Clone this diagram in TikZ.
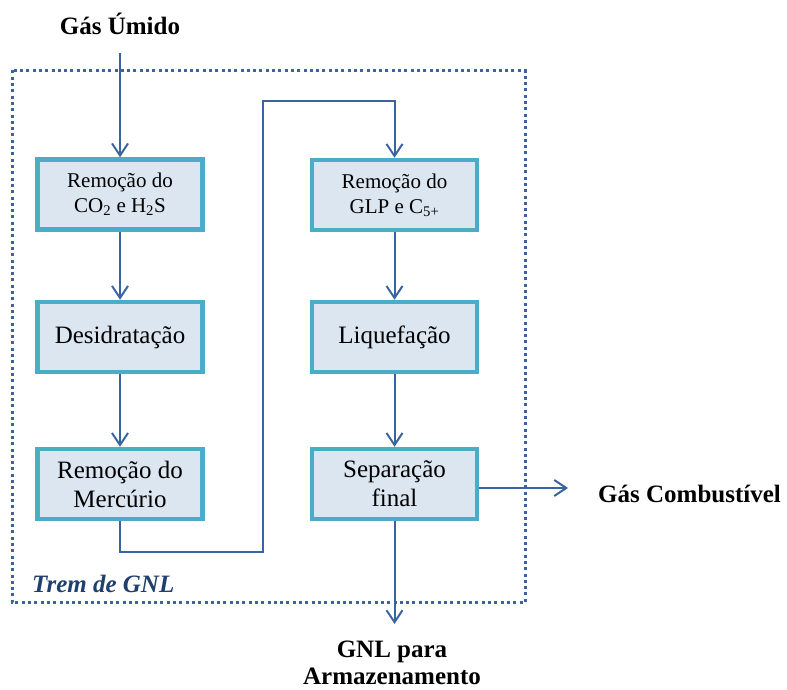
\documentclass[tikz,border=0pt]{standalone}
\usepackage{fontspec}
\setmainfont{Liberation Serif}
\usetikzlibrary{arrows.meta}
\definecolor{flowline}{HTML}{3A64A0}
\definecolor{boxedge}{HTML}{4BACC6}
\definecolor{boxfill}{HTML}{DCE6F1}
\definecolor{titleblue}{HTML}{1F3F6E}
\tikzset{
  stage/.style={draw=boxedge, fill=boxfill, line width=4.5pt, minimum width=165pt,
    minimum height=70pt, inner sep=0pt, align=center, text=black,
    font=\fontsize{25}{29}\selectfont},
  smallstage/.style={stage, font=\fontsize{21}{25}\selectfont},
  flow/.style={draw=flowline, line width=2pt,
    -{Straight Barb[length=12pt,width=16pt,line width=2pt]}},
  trainframe/.style={draw=flowline, line width=3pt, dash pattern=on 3pt off 3.3pt},
  heading/.style={font=\fontsize{25}{27}\selectfont\bfseries, inner sep=0pt, align=center}
}
\begin{document}
\begin{tikzpicture}[x=1pt, y=-1pt]
\useasboundingbox (0,0) rectangle (787,690);

% dotted boundary of the liquefaction train
\draw[trainframe] (12,70.5) rectangle (525,602.5);
\node[font=\fontsize{25}{28}\selectfont\bfseries\itshape, text=titleblue,
  anchor=base west, inner sep=0pt] (train) at (32,592) {Trem de GNL};

% process stages
\node[smallstage] (co2) at (120,194.5) {Remoção do\\CO\textsubscript{2} e H\textsubscript{2}S};
\node[stage] (dehy) at (120,337) {Desidratação};
\node[stage] (hg) at (120,484) {Remoção do\\Mercúrio};
\node[smallstage] (glp) at (394.5,195) {Remoção do\\GLP e C\textsubscript{5+}};
\node[stage] (liq) at (394.5,337) {Liquefação};
\node[stage] (sep) at (394.5,484) {Separação\\final};

% inlet and outlet labels
\node[heading, anchor=base] (wet) at (120,35) {Gás Úmido};
\coordinate (inlet) at (120,53);
\node[heading, anchor=base west] (fuel) at (598,502) {Gás Combustível};
\coordinate (fuelend) at (568,488);
\node[heading, anchor=north] (lng) at (392,641) {GNL para\\Armazenamento};
\coordinate (lngend) at (394.5,624);

% routing points of the crossover line
\coordinate (low) at (263,552);
\coordinate (high) at (263,101);

% flow connections
\draw[flow] (inlet) -- (co2);
\draw[flow] (co2) -- (dehy);
\draw[flow] (dehy) -- (hg);
\draw[flow] (hg.south) |- (low) -- (high) -| (glp.north);
\draw[flow] (glp) -- (liq);
\draw[flow] (liq) -- (sep);
\draw[flow] (sep.east |- fuelend) -- (fuelend);
\draw[flow] (sep.south) -- (lngend);
\end{tikzpicture}
\end{document}
